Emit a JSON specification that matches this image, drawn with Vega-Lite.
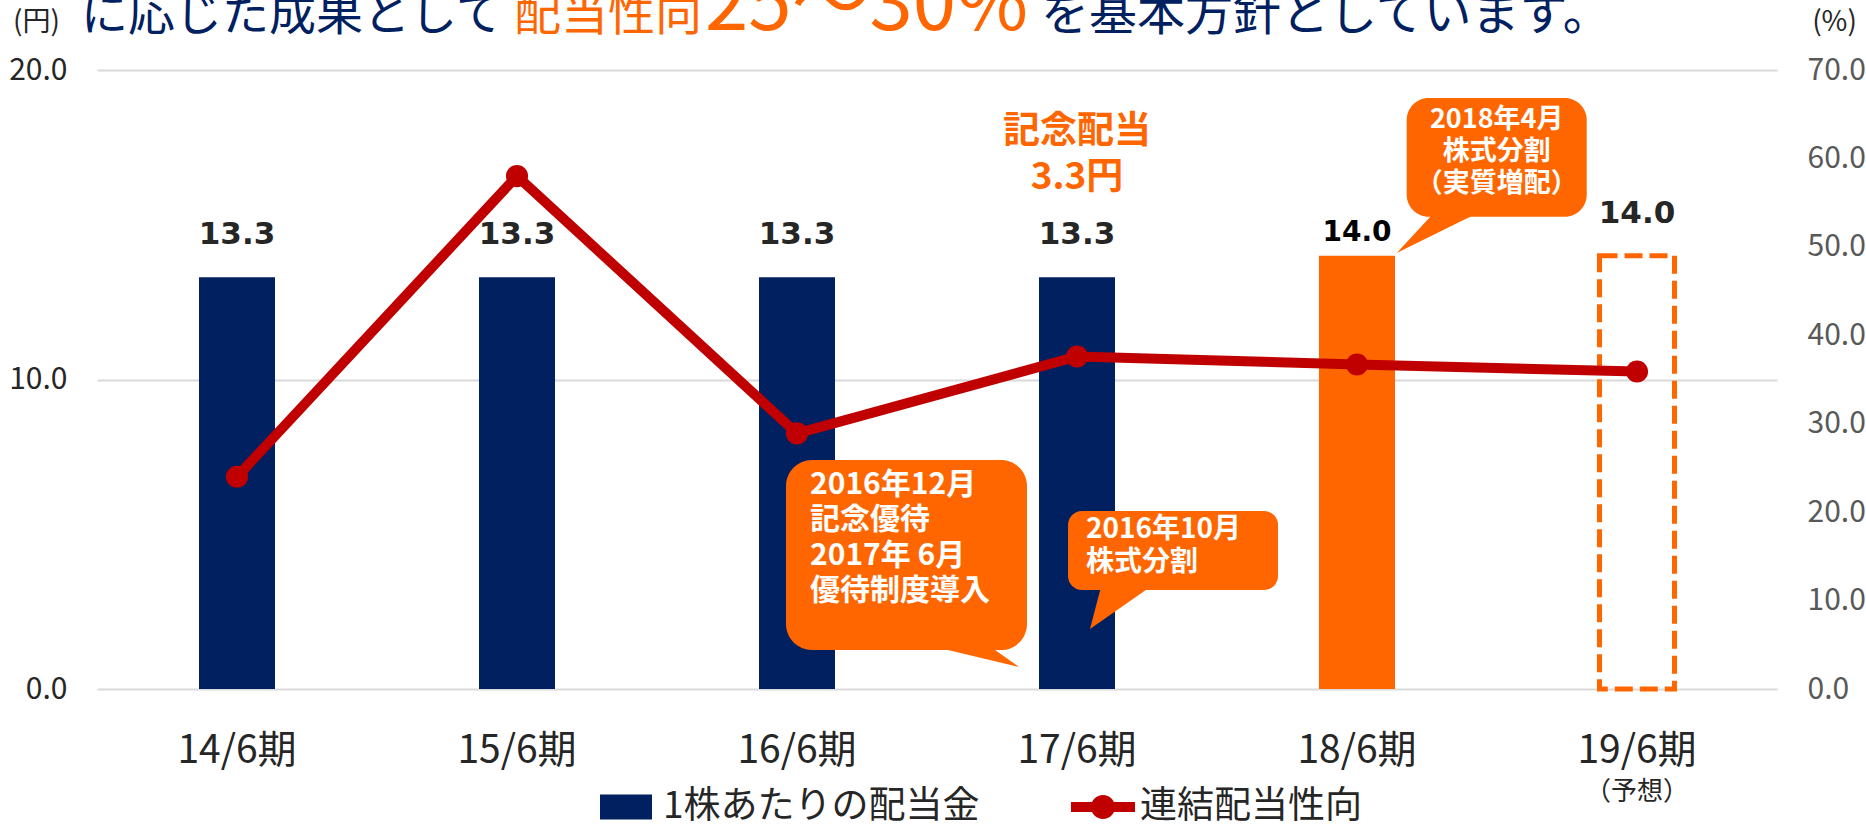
{
  "$schema": "https://vega.github.io/schema/vega-lite/v6.json",
  "width": 1680,
  "height": 619,
  "autosize": {"type": "none"},
  "padding": {"left": 97, "top": 70, "right": 89, "bottom": 136},
  "background": "white",
  "config": {"view": {"stroke": null}, "font": "Noto Sans CJK JP"},
  "datasets": {
    "dividends": [
      {"period": "14/6期", "dividend": 13.3, "payout": 24.0, "status": "実績"},
      {"period": "15/6期", "dividend": 13.3, "payout": 58.0, "status": "実績"},
      {"period": "16/6期", "dividend": 13.3, "payout": 28.9, "status": "実績"},
      {"period": "17/6期", "dividend": 13.3, "payout": 37.6, "status": "実績"},
      {"period": "18/6期", "dividend": 14.0, "payout": 36.7, "status": "分割後"},
      {"period": "19/6期", "dividend": 14.0, "payout": 35.9, "status": "予想"}
    ]
  },
  "resolve": {"scale": {"x": "independent", "y": "independent"}},
  "layer": [
    {
      "data": {"name": "dividends"},
      "layer": [
        {
          "transform": [{"filter": "datum.status === '実績'"}],
          "mark": {"type": "bar", "width": 76},
          "encoding": {
            "x": {"field": "period", "type": "nominal", "title": null,
              "scale": {"domain": ["14/6期", "15/6期", "16/6期", "17/6期", "18/6期", "19/6期"], "paddingInner": 0, "paddingOuter": 0},
              "axis": {"labelAngle": 0, "labelFont": "Noto Sans CJK JP", "labelFontSize": 39, "labelColor": "#262626", "labelPadding": 61, "labelBaseline": "middle", "ticks": false, "tickSize": 0, "domain": false, "grid": false}},
            "y": {"field": "dividend", "type": "quantitative",
              "scale": {"domain": [0, 20]},
              "axis": {"values": [0, 10, 20], "format": ".1f", "grid": true, "gridColor": "#D9D9D9", "gridWidth": 2, "domain": false, "ticks": false, "tickSize": 0, "labelFont": "Noto Sans CJK JP", "labelFontSize": 30, "labelColor": "#262626", "labelPadding": 30, "title": "(円)", "titleAngle": 0, "titleX": -61, "titleY": -48, "titleAlign": "center", "titleBaseline": "middle", "titleFont": "Noto Sans CJK JP", "titleFontSize": 28, "titleFontWeight": "normal", "titleColor": "#262626"}},
            "color": {"datum": "1株あたりの配当金",
              "scale": {"domain": ["1株あたりの配当金", "連結配当性向"], "range": ["#002060", "#C00000"]},
              "legend": {"orient": "none", "legendX": 497, "legendY": 705, "direction": "horizontal", "title": null, "labelFont": "Noto Sans CJK JP", "labelFontSize": 37, "labelColor": "#262626", "labelLimit": 1000, "labelOffset": 5, "symbolSize": 4096, "columnPadding": 91, "padding": 0, "rowPadding": 0,
                "encode": {"symbols": {"update": {
                  "shape": {"signal": "datum.value === '連結配当性向' ? 'M-1,-0.16H1V0.16H-1Z M-0.375,0A0.375,0.375 0 1,1 0.375,0A0.375,0.375 0 1,1 -0.375,0Z' : 'M-0.8125,-0.39H0.8125V0.39H-0.8125Z'"},
                  "fill": {"signal": "datum.value === '連結配当性向' ? '#C00000' : '#002060'"},
                  "stroke": {"value": "transparent"},
                  "strokeWidth": {"value": 0},
                  "opacity": {"value": 1},
                  "fillOpacity": {"value": 1}}}}}}
          }
        },
        {
          "transform": [{"filter": "datum.status === '分割後'"}],
          "mark": {"type": "bar", "width": 76, "color": "#FF6600"},
          "encoding": {
            "x": {"field": "period", "type": "nominal", "title": null, "scale": {"domain": ["14/6期", "15/6期", "16/6期", "17/6期", "18/6期", "19/6期"], "paddingInner": 0, "paddingOuter": 0}},
            "y": {"field": "dividend", "type": "quantitative", "scale": {"domain": [0, 20]}}
          }
        },
        {
          "transform": [{"filter": "datum.status === '予想'"}],
          "mark": {"type": "bar", "width": 75, "filled": false, "color": "#FF6600", "strokeWidth": 5, "strokeDash": [18, 7]},
          "encoding": {
            "x": {"field": "period", "type": "nominal", "title": null, "scale": {"domain": ["14/6期", "15/6期", "16/6期", "17/6期", "18/6期", "19/6期"], "paddingInner": 0, "paddingOuter": 0}},
            "y": {"field": "dividend", "type": "quantitative", "scale": {"domain": [0, 20]}}
          }
        },
        {
          "transform": [{"filter": "datum.status !== '分割後'"}],
          "mark": {"type": "text", "baseline": "alphabetic", "dy": -33, "font": "DejaVu Sans", "fontWeight": "bold", "fontSize": 31, "color": "#262626"},
          "encoding": {
            "x": {"field": "period", "type": "nominal", "title": null, "scale": {"domain": ["14/6期", "15/6期", "16/6期", "17/6期", "18/6期", "19/6期"], "paddingInner": 0, "paddingOuter": 0}},
            "y": {"field": "dividend", "type": "quantitative", "scale": {"domain": [0, 20]}},
            "text": {"field": "dividend", "type": "quantitative", "format": ".1f"}
          }
        },
        {
          "transform": [{"filter": "datum.status === '分割後'"}],
          "mark": {"type": "text", "baseline": "alphabetic", "dy": -14.5, "font": "DejaVu Sans", "fontWeight": "bold", "fontSize": 28, "color": "#000000"},
          "encoding": {
            "x": {"field": "period", "type": "nominal", "title": null, "scale": {"domain": ["14/6期", "15/6期", "16/6期", "17/6期", "18/6期", "19/6期"], "paddingInner": 0, "paddingOuter": 0}},
            "y": {"field": "dividend", "type": "quantitative", "scale": {"domain": [0, 20]}},
            "text": {"field": "dividend", "type": "quantitative", "format": ".1f"}
          }
        }
      ]
    },
    {
      "data": {"name": "dividends"},
      "mark": {"type": "line", "strokeWidth": 10, "point": {"filled": true, "size": 490, "opacity": 1}},
      "encoding": {
        "x": {"field": "period", "type": "nominal", "title": null, "axis": null, "scale": {"domain": ["14/6期", "15/6期", "16/6期", "17/6期", "18/6期", "19/6期"], "paddingInner": 0, "paddingOuter": 0}},
        "y": {"field": "payout", "type": "quantitative",
          "scale": {"domain": [0, 70]},
          "axis": {"orient": "right", "values": [0, 10, 20, 30, 40, 50, 60, 70], "format": ".1f", "grid": false, "domain": false, "ticks": false, "tickSize": 0, "labelFont": "Noto Sans CJK JP", "labelFontSize": 30, "labelColor": "#595959", "labelPadding": 30, "title": "(%)", "titleAngle": 0, "titleX": 57, "titleY": -48, "titleAlign": "center", "titleBaseline": "middle", "titleFont": "Noto Sans CJK JP", "titleFontSize": 28, "titleFontWeight": "normal", "titleColor": "#262626"}},
        "color": {"datum": "連結配当性向",
          "scale": {"domain": ["1株あたりの配当金", "連結配当性向"], "range": ["#002060", "#C00000"]},
          "legend": {"orient": "none", "legendX": 497, "legendY": 705, "direction": "horizontal", "title": null, "labelFont": "Noto Sans CJK JP", "labelFontSize": 37, "labelColor": "#262626", "labelLimit": 1000, "labelOffset": 5, "symbolSize": 4096, "columnPadding": 91, "padding": 0, "rowPadding": 0,
            "encode": {"symbols": {"update": {
              "shape": {"signal": "datum.value === '連結配当性向' ? 'M-1,-0.16H1V0.16H-1Z M-0.375,0A0.375,0.375 0 1,1 0.375,0A0.375,0.375 0 1,1 -0.375,0Z' : 'M-0.8125,-0.39H0.8125V0.39H-0.8125Z'"},
              "fill": {"signal": "datum.value === '連結配当性向' ? '#C00000' : '#002060'"},
              "stroke": {"value": "transparent"},
              "strokeWidth": {"value": 0},
              "opacity": {"value": 1},
              "fillOpacity": {"value": 1}}}}}}
      }
    },
    {
      "data": {"values": [{}]},
      "layer": [
        {
          "mark": {"type": "rect", "color": "#FF6600", "cornerRadius": 26},
          "encoding": {
            "x": {"datum": 2.4607, "type": "quantitative", "scale": {"domain": [0, 6]}, "axis": null},
            "x2": {"datum": 3.3214},
            "y": {"datum": 7.399, "type": "quantitative", "scale": {"domain": [0, 20]}, "axis": null},
            "y2": {"datum": 1.26}
          }
        },
        {
          "mark": {"type": "point", "shape": "M-92,-22L-31,-22L0,0Z", "size": 4, "filled": true, "color": "#FF6600", "opacity": 1, "strokeWidth": 0},
          "encoding": {
            "x": {"datum": 3.2929, "type": "quantitative", "scale": {"domain": [0, 6]}, "axis": null},
            "y": {"datum": 0.7108, "type": "quantitative", "scale": {"domain": [0, 20]}, "axis": null}
          }
        },
        {
          "mark": {"type": "text", "text": ["2016年12月", "記念優待", "2017年 6月", "優待制度導入"], "align": "left", "baseline": "middle", "lineHeight": 35.5, "fontSize": 30, "fontWeight": "bold", "color": "white"},
          "encoding": {
            "x": {"datum": 2.5464, "type": "quantitative", "scale": {"domain": [0, 6]}, "axis": null},
            "y": {"datum": 6.6, "type": "quantitative", "scale": {"domain": [0, 20]}, "axis": null}
          }
        },
        {
          "mark": {"type": "rect", "color": "#FF6600", "cornerRadius": 14},
          "encoding": {
            "x": {"datum": 3.4679, "type": "quantitative", "scale": {"domain": [0, 6]}, "axis": null},
            "x2": {"datum": 4.2179},
            "y": {"datum": 5.751, "type": "quantitative", "scale": {"domain": [0, 20]}, "axis": null},
            "y2": {"datum": 3.199}
          }
        },
        {
          "mark": {"type": "point", "shape": "M11.5,-44L63,-44L0,0Z", "size": 4, "filled": true, "color": "#FF6600", "opacity": 1, "strokeWidth": 0},
          "encoding": {
            "x": {"datum": 3.5464, "type": "quantitative", "scale": {"domain": [0, 6]}, "axis": null},
            "y": {"datum": 1.9386, "type": "quantitative", "scale": {"domain": [0, 20]}, "axis": null}
          }
        },
        {
          "mark": {"type": "text", "text": ["2016年10月", "株式分割"], "align": "left", "baseline": "middle", "lineHeight": 33, "fontSize": 28, "fontWeight": "bold", "color": "white"},
          "encoding": {
            "x": {"datum": 3.532, "type": "quantitative", "scale": {"domain": [0, 6]}, "axis": null},
            "y": {"datum": 5.14, "type": "quantitative", "scale": {"domain": [0, 20]}, "axis": null}
          }
        },
        {
          "mark": {"type": "rect", "color": "#FF6600", "cornerRadius": 22},
          "encoding": {
            "x": {"datum": 4.6775, "type": "quantitative", "scale": {"domain": [0, 6]}, "axis": null},
            "x2": {"datum": 5.3204},
            "y": {"datum": 19.095, "type": "quantitative", "scale": {"domain": [0, 20]}, "axis": null},
            "y2": {"datum": 15.26}
          }
        },
        {
          "mark": {"type": "point", "shape": "M38,-41L83,-41L0,0Z", "size": 4, "filled": true, "color": "#FF6600", "opacity": 1, "strokeWidth": 0},
          "encoding": {
            "x": {"datum": 4.6418, "type": "quantitative", "scale": {"domain": [0, 6]}, "axis": null},
            "y": {"datum": 14.087, "type": "quantitative", "scale": {"domain": [0, 20]}, "axis": null}
          }
        },
        {
          "mark": {"type": "text", "text": ["2018年4月", "株式分割", "（実質増配）"], "align": "center", "baseline": "middle", "lineHeight": 32, "fontSize": 27, "fontWeight": "bold", "color": "white"},
          "encoding": {
            "x": {"datum": 4.999, "type": "quantitative", "scale": {"domain": [0, 6]}, "axis": null},
            "y": {"datum": 18.38, "type": "quantitative", "scale": {"domain": [0, 20]}, "axis": null}
          }
        },
        {
          "mark": {"type": "text", "text": ["記念配当", "3.3円"], "align": "center", "baseline": "middle", "lineHeight": 46, "fontSize": 37, "fontWeight": "bold", "color": "#FF6600"},
          "encoding": {
            "x": {"datum": 3.5, "type": "quantitative", "scale": {"domain": [0, 6]}, "axis": null},
            "y": {"datum": 18.0, "type": "quantitative", "scale": {"domain": [0, 20]}, "axis": null}
          }
        },
        {
          "mark": {"type": "text", "text": "（予想）", "align": "center", "baseline": "middle", "fontSize": 26, "color": "#262626"},
          "encoding": {
            "x": {"datum": 5.5, "type": "quantitative", "scale": {"domain": [0, 6]}, "axis": null},
            "y": {"datum": -3.312, "type": "quantitative", "scale": {"domain": [0, 20]}, "axis": null}
          }
        },
        {
          "mark": {"type": "text", "text": "に応じた成果として", "align": "left", "baseline": "alphabetic", "fontSize": 47, "color": "#002060"},
          "encoding": {
            "x": {"datum": -0.057, "type": "quantitative", "scale": {"domain": [0, 6]}, "axis": null},
            "y": {"datum": 21.29, "type": "quantitative", "scale": {"domain": [0, 20]}, "axis": null}
          }
        },
        {
          "mark": {"type": "text", "text": "配当性向", "align": "left", "baseline": "alphabetic", "fontSize": 47, "color": "#FF6600"},
          "encoding": {
            "x": {"datum": 1.4893, "type": "quantitative", "scale": {"domain": [0, 6]}, "axis": null},
            "y": {"datum": 21.29, "type": "quantitative", "scale": {"domain": [0, 20]}, "axis": null}
          }
        },
        {
          "mark": {"type": "text", "text": "25～30%", "align": "left", "baseline": "alphabetic", "fontSize": 78, "color": "#FF6600"},
          "encoding": {
            "x": {"datum": 2.1714, "type": "quantitative", "scale": {"domain": [0, 6]}, "axis": null},
            "y": {"datum": 21.29, "type": "quantitative", "scale": {"domain": [0, 20]}, "axis": null}
          }
        },
        {
          "mark": {"type": "text", "text": "を基本方針としています。", "align": "left", "baseline": "alphabetic", "fontSize": 48, "color": "#002060"},
          "encoding": {
            "x": {"datum": 3.371, "type": "quantitative", "scale": {"domain": [0, 6]}, "axis": null},
            "y": {"datum": 21.29, "type": "quantitative", "scale": {"domain": [0, 20]}, "axis": null}
          }
        }
      ]
    }
  ]
}
